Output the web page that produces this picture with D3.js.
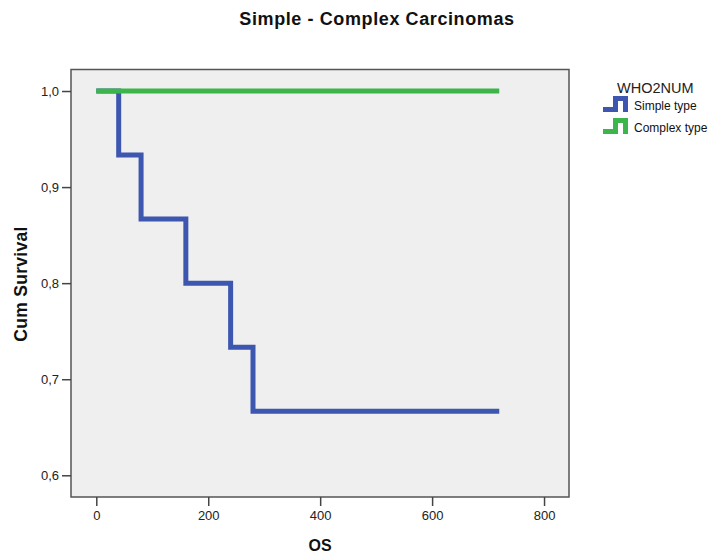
<!DOCTYPE html>
<html><head><meta charset="utf-8">
<script src="https://cdn.jsdelivr.net/npm/d3@7"></script>
<style>body{margin:0;background:#fff;font-family:"Liberation Sans",Arial,sans-serif;}</style>
</head><body>
<svg id="c" width="715" height="554"></svg>
<script>
const title = "Simple - Complex Carcinomas";
const xLabel = "OS";
const yLabel = "Cum Survival";
const legendTitle = "WHO2NUM";
const seriesNames = ["Simple type", "Complex type"];
const seriesColors = ["#3d57b0", "#3cb54a"];
// step points: [time, survival]
const simpleTimes = [0, 40, 80, 160, 240, 280, 720];
const simpleSurv = [1.0, 0.9333, 0.8667, 0.8, 0.7333, 0.6667, 0.6667];
const complexTimes = [0, 720];
const complexSurv = [1.0, 1.0];
const xTicks = [0, 200, 400, 600, 800];
const yTicks = [0.6, 0.7, 0.8, 0.9, 1.0];

const svg = d3.select("#c");
const L = 71, R = 569, T = 69.5, B = 497;
const x = d3.scaleLinear().domain([-45.2, 844.6]).range([L, R]);
const y = d3.scaleLinear().domain([0.5774, 1.0224]).range([B, T]);

svg.append("rect").attr("x", L).attr("y", T).attr("width", R - L).attr("height", B - T)
  .attr("fill", "#efefef").attr("stroke", "#555").attr("stroke-width", 1.5);

const fmt = d => d3.format(".1f")(d).replace(".", ",");
const gy = svg.append("g").attr("transform", `translate(${L},0)`)
  .call(d3.axisLeft(y).tickValues(yTicks).tickFormat(fmt).tickSize(9).tickPadding(3));
gy.select(".domain").remove();
const gx = svg.append("g").attr("transform", `translate(0,${B})`)
  .call(d3.axisBottom(x).tickValues(xTicks).tickSize(9).tickPadding(5));
gx.select(".domain").remove();
svg.selectAll(".tick line").attr("stroke", "#444").attr("stroke-width", 1.5);
svg.selectAll(".tick text").attr("font-size", 13).attr("fill", "#222")
  .attr("font-family", "'Liberation Sans', Arial, sans-serif");

const line = d3.line().x(d => x(d[0])).y(d => y(d[1])).curve(d3.curveStepAfter);
const sData = simpleTimes.map((t, i) => [t, simpleSurv[i]]);
const cData = complexTimes.map((t, i) => [t, complexSurv[i]]);
[sData, cData].forEach((d, i) => {
  svg.append("path").datum(d).attr("d", line).attr("fill", "none")
    .attr("stroke", seriesColors[i]).attr("stroke-width", 5)
    .attr("stroke-linejoin", "miter").attr("stroke-linecap", "butt");
});

svg.append("text").attr("x", 377).attr("y", 25).attr("text-anchor", "middle")
  .attr("font-size", 18).attr("letter-spacing", 0.6).attr("font-weight", "bold").attr("fill", "#111").text(title);
svg.append("text").attr("x", 320).attr("y", 551).attr("text-anchor", "middle")
  .attr("font-size", 16).attr("font-weight", "bold").attr("fill", "#111").text(xLabel);
svg.append("text").attr("transform", "translate(27,284) rotate(-90)").attr("text-anchor", "middle")
  .attr("font-size", 17.5).attr("letter-spacing", 0.3).attr("font-weight", "bold").attr("fill", "#111").text(yLabel);

svg.append("text").attr("x", 617).attr("y", 93).attr("font-size", 14.5).attr("fill", "#222").text(legendTitle);
seriesNames.forEach((n, i) => {
  const o = i * 22;
  const icon = [[603, 109.5 + o], [615.5, 109.5 + o], [615.5, 98.5 + o], [625.5, 98.5 + o], [625.5, 112 + o]];
  svg.append("path").attr("d", d3.line()(icon)).attr("fill", "none")
    .attr("stroke", seriesColors[i]).attr("stroke-width", 5);
  svg.append("text").attr("x", 634).attr("y", 110 + o).attr("font-size", 12).attr("fill", "#111").text(n);
});
</script>
</body></html>
